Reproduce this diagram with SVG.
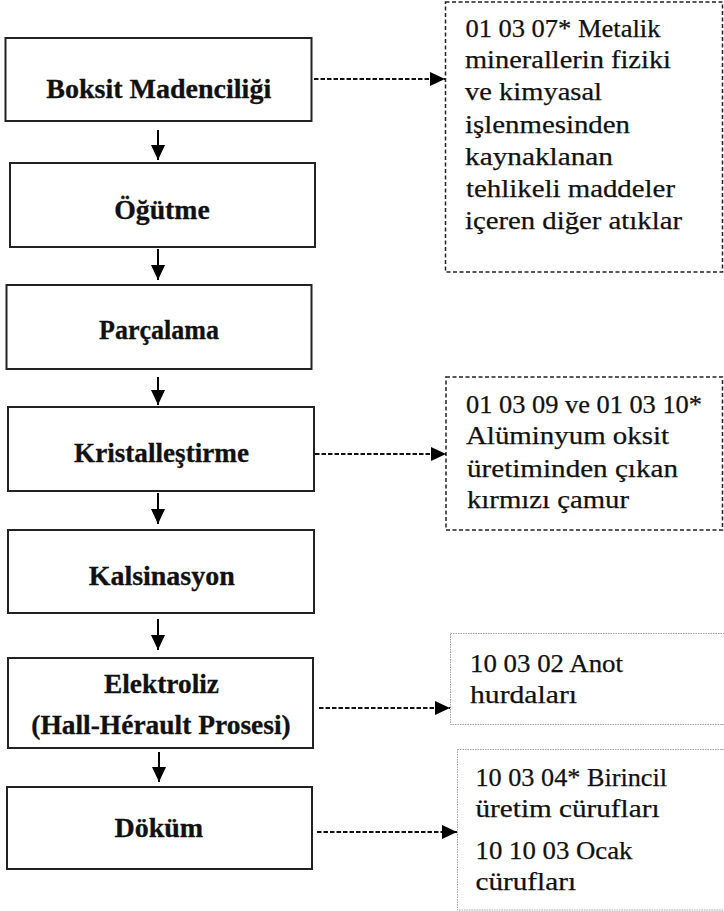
<svg xmlns="http://www.w3.org/2000/svg" width="724" height="911" viewBox="0 0 724 911">
  <defs>
    <marker id="head" markerUnits="userSpaceOnUse" markerWidth="15" markerHeight="14" refX="15" refY="7" orient="auto">
      <path d="M0,0 L15,7 L0,14 Z" fill="#000"/>
    </marker>
    <style>
      .step rect { fill: #fff; stroke: #222; stroke-width: 2; }
      .step text { font-family: "Liberation Serif", "Times New Roman", serif; font-weight: bold; font-size: 27px; fill: #111; stroke: #111; stroke-width: 0.3; text-anchor: middle; }
      .waste rect { fill: #fff; stroke: #222; stroke-width: 1.5; stroke-dasharray: 4 2.5; }
      .waste.light rect { stroke: #a0a0a0; stroke-width: 1; stroke-dasharray: 1.5 1; }
      .waste text { font-family: "Liberation Serif", "Times New Roman", serif; font-size: 25px; fill: #111; stroke: #111; stroke-width: 0.25; }
      .flow { stroke: #000; stroke-width: 2; fill: none; marker-end: url(#head); }
      .out { stroke: #111; stroke-width: 2; fill: none; stroke-dasharray: 4.5 2; marker-end: url(#head); }
    </style>
  </defs>
  <rect width="724" height="911" fill="#fff"/>

  <!-- process steps -->
  <g id="boksit" class="step">
    <rect x="5.5" y="38" width="306" height="83"/>
    <text x="158.7" y="98" textLength="225" lengthAdjust="spacingAndGlyphs">Boksit Madenciliği</text>
  </g>
  <g id="ogutme" class="step">
    <rect x="10" y="163" width="305" height="84"/>
    <text x="162" y="219" textLength="95.5" lengthAdjust="spacingAndGlyphs">Öğütme</text>
  </g>
  <g id="parcalama" class="step">
    <rect x="6.5" y="285" width="305" height="84"/>
    <text x="159" y="339" textLength="120" lengthAdjust="spacingAndGlyphs">Parçalama</text>
  </g>
  <g id="kristallestirme" class="step">
    <rect x="8" y="407" width="306" height="84"/>
    <text x="161.5" y="462" textLength="175" lengthAdjust="spacingAndGlyphs">Kristalleştirme</text>
  </g>
  <g id="kalsinasyon" class="step">
    <rect x="8" y="530" width="306" height="83"/>
    <text x="161.7" y="585" textLength="146" lengthAdjust="spacingAndGlyphs">Kalsinasyon</text>
  </g>
  <g id="elektroliz" class="step">
    <rect x="8" y="658" width="305" height="90"/>
    <text x="161.5" y="693" textLength="115" lengthAdjust="spacingAndGlyphs">Elektroliz</text>
    <text x="161" y="734" textLength="259.5" lengthAdjust="spacingAndGlyphs">(Hall-Hérault Prosesi)</text>
  </g>
  <g id="dokum" class="step">
    <rect x="7" y="787" width="305" height="82"/>
    <text x="158.8" y="837" textLength="88.6" lengthAdjust="spacingAndGlyphs">Döküm</text>
  </g>

  <!-- waste outputs -->
  <g id="atik-010307" class="waste">
    <rect x="445.5" y="2" width="277" height="270"/>
    <text x="465.4" y="37" textLength="195" lengthAdjust="spacingAndGlyphs">01 03 07* Metalik</text>
    <text x="465" y="68" textLength="206" lengthAdjust="spacingAndGlyphs">minerallerin fiziki</text>
    <text x="465" y="100" textLength="137" lengthAdjust="spacingAndGlyphs">ve kimyasal</text>
    <text x="465" y="133" textLength="165" lengthAdjust="spacingAndGlyphs">işlenmesinden</text>
    <text x="465" y="165" textLength="148" lengthAdjust="spacingAndGlyphs">kaynaklanan</text>
    <text x="466" y="197" textLength="209" lengthAdjust="spacingAndGlyphs">tehlikeli maddeler</text>
    <text x="465" y="229" textLength="217" lengthAdjust="spacingAndGlyphs">içeren diğer atıklar</text>
  </g>
  <g id="atik-010309" class="waste">
    <rect x="446" y="377" width="276.5" height="153"/>
    <text x="466" y="412.5" textLength="236" lengthAdjust="spacingAndGlyphs">01 03 09 ve 01 03 10*</text>
    <text x="466" y="444" textLength="203" lengthAdjust="spacingAndGlyphs">Alüminyum oksit</text>
    <text x="467" y="477" textLength="211" lengthAdjust="spacingAndGlyphs">üretiminden çıkan</text>
    <text x="467" y="508" textLength="162" lengthAdjust="spacingAndGlyphs">kırmızı çamur</text>
  </g>
  <g id="atik-100302" class="waste light">
    <rect x="450.5" y="633.5" width="280" height="91"/>
    <text x="470" y="672" textLength="153" lengthAdjust="spacingAndGlyphs">10 03 02 Anot</text>
    <text x="470" y="703" textLength="107" lengthAdjust="spacingAndGlyphs">hurdaları</text>
  </g>
  <g id="atik-100304" class="waste light">
    <rect x="457.5" y="749.5" width="280" height="160.5"/>
    <text x="475.5" y="786" textLength="191.5" lengthAdjust="spacingAndGlyphs">10 03 04* Birincil</text>
    <text x="475.5" y="817" textLength="184" lengthAdjust="spacingAndGlyphs">üretim cürufları</text>
    <text x="475.5" y="859" textLength="157" lengthAdjust="spacingAndGlyphs">10 10 03 Ocak</text>
    <text x="475.5" y="890" textLength="100.5" lengthAdjust="spacingAndGlyphs">cürufları</text>
  </g>

  <!-- connectors -->
  <g id="connectors">
    <line class="flow" x1="158" y1="130" x2="158" y2="160"/>
    <line class="flow" x1="158" y1="249" x2="158" y2="280"/>
    <line class="flow" x1="158" y1="377" x2="158" y2="405"/>
    <line class="flow" x1="158" y1="493" x2="158" y2="524"/>
    <line class="flow" x1="158" y1="619" x2="158" y2="650"/>
    <line class="flow" x1="159" y1="752" x2="159" y2="782"/>

    <line class="out" x1="314" y1="79" x2="445" y2="79"/>
    <line class="out" x1="315" y1="454" x2="446" y2="454"/>
    <line class="out" x1="319" y1="708" x2="450" y2="708"/>
    <line class="out" x1="317" y1="832" x2="457" y2="832"/>
  </g>
</svg>
